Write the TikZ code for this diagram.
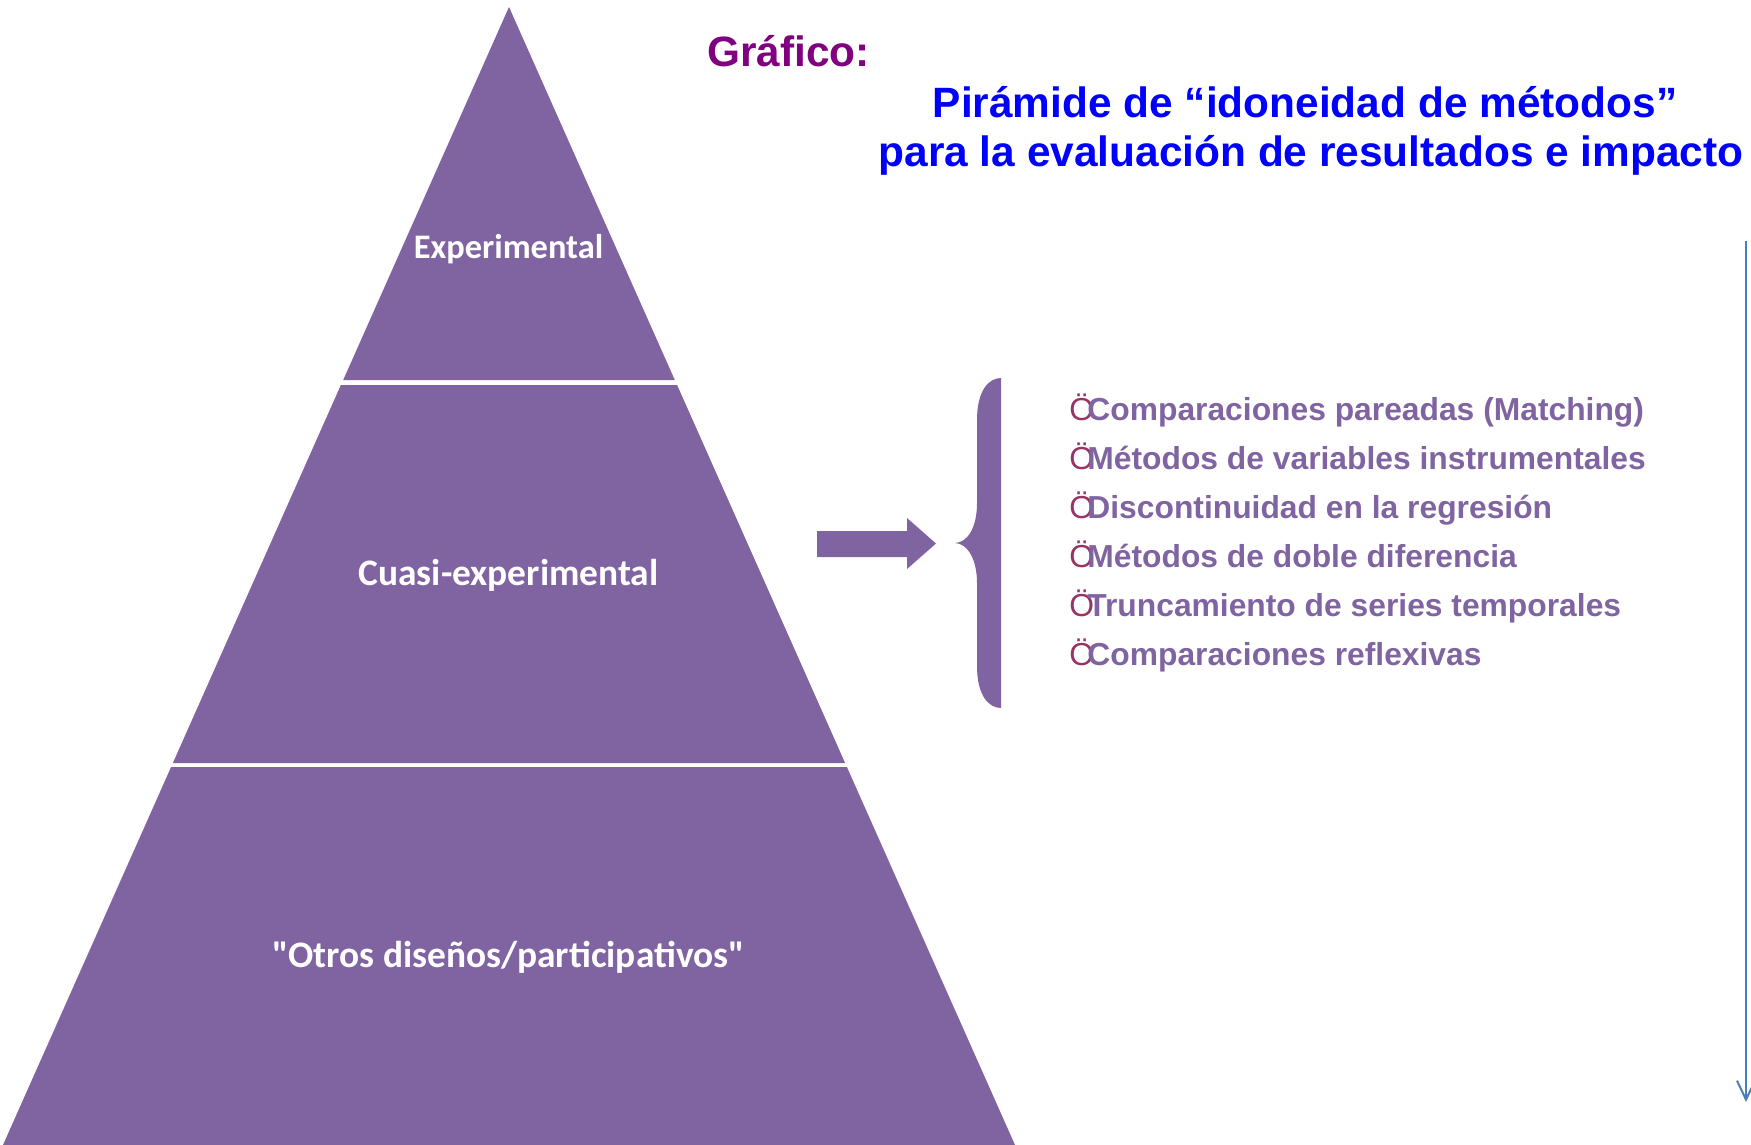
\documentclass[tikz,border=0pt]{standalone}
\usepackage{fontspec}
\setmainfont{Liberation Sans}
\newfontfamily\calibri{Carlito}
\usetikzlibrary{arrows.meta}
\definecolor{pyr}{HTML}{8064A2}
\definecolor{ttl}{HTML}{0000FF}
\definecolor{graf}{HTML}{800080}
\definecolor{chk}{HTML}{993366}
\definecolor{axisblue}{HTML}{4A7EBB}
\begin{document}
\begin{tikzpicture}[x=0.5pt,y=-0.5pt,
  lab/.style={text=white, inner sep=0, font=\calibri\bfseries\fontsize{18.7}{22}\selectfont},
  ttlline/.style={anchor=base, inner sep=0, text=ttl, font=\bfseries\fontsize{21.2}{25}\selectfont},
  itemtxt/.style={anchor=base west, inner sep=0, text=pyr, font=\bfseries\fontsize{15.9}{19}\selectfont},
  bul/.style={anchor=base west, inner sep=0, text=chk, font=\mdseries\fontsize{15.9}{19}\selectfont}]
\useasboundingbox (0,0) rectangle (1751,1145);
% pyramid tiers
\fill[pyr] (509,7) -- (674.8,380) -- (343.2,380) -- cycle;
\fill[pyr] (340.9,385) -- (677.1,385) -- (845.1,763) -- (172.9,763) -- cycle;
\fill[pyr] (171.1,767) -- (846.9,767) -- (1015,1145) -- (3,1145) -- cycle;
\node[lab, font=\calibri\bfseries\fontsize{17.2}{21}\selectfont] (exp) at (508.5,249.5) {Experimental};
\node[lab] (cuasi) at (508.5,575.5) {Cuasi-experimental};
\node[lab] (otros) at (508.5,957.5) {"Otros diseños/participativos"};
% titles
\node[anchor=base west, inner sep=0, text=graf, font=\bfseries\fontsize{21.2}{25}\selectfont] (graf) at (707,67) {Gráfico:};
\node[ttlline] (t1) at (1305,118) {Pirámide de “idoneidad de métodos”};
\node[ttlline] (t2) at (1311,167) {para la evaluación de resultados e impacto};
% block arrow
\fill[pyr] (817,531) -- (907,531) -- (907,518) -- (936,543.5) -- (907,569) -- (907,557) -- (817,557) -- cycle;
% brace
\fill[pyr] (1001,378) -- (1001,708)
  .. controls (989,708) and (977,696) .. (977,666)
  -- (977,583)
  .. controls (977,560) and (968,543.5) .. (955,543)
  .. controls (968,542.5) and (977,527) .. (977,503)
  -- (977,420)
  .. controls (977,390) and (989,378) .. (1001,378) -- cycle;
% list
\foreach \y/\t [count=\i] in {420/Comparaciones pareadas (Matching),
  469/Métodos de variables instrumentales,
  518/Discontinuidad en la regresión,
  567/Métodos de doble diferencia,
  616/Truncamiento de series temporales,
  665/Comparaciones reflexivas}{
  \node[bul] (b\i) at (1069,\y) {Ö};
  \node[itemtxt] (it\i) at (1087,\y) {\t};
}
% right axis
\coordinate (axtop) at (1746,241);
\coordinate (axbot) at (1746,1102);
\draw[axisblue, line width=1pt, -{Straight Barb[length=9.5pt,width=9pt]}] (axtop) -- (axbot);
\end{tikzpicture}
\end{document}
